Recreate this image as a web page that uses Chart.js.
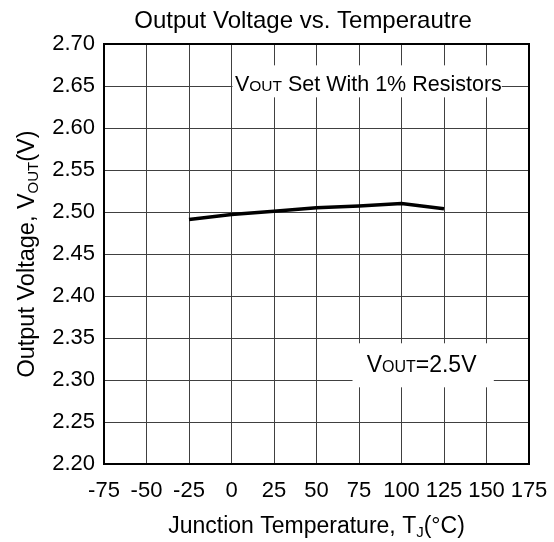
<!DOCTYPE html>
<html>
<head>
<meta charset="utf-8">
<script src="https://cdn.jsdelivr.net/npm/chart.js@4/dist/chart.umd.min.js"></script>
<style>
  html, body { margin: 0; padding: 0; background: #fff; }
  #wrap { width: 554px; height: 542px; }
</style>
</head>
<body>
<div id="wrap"><canvas id="chart" width="554" height="542"></canvas></div>
<script>
const temps = [-25, 0, 25, 50, 75, 100, 125];
const vout = [2.491, 2.497, 2.501, 2.505, 2.507, 2.510, 2.504];

const xTicks = [-75, -50, -25, 0, 25, 50, 75, 100, 125, 150, 175];
const yTicks = [2.20, 2.25, 2.30, 2.35, 2.40, 2.45, 2.50, 2.55, 2.60, 2.65, 2.70];

const FONT = '"Liberation Sans", Arial, Helvetica, sans-serif';

// draw a run of text pieces [text, size, dy] left to right, centred on x
function drawPieces(ctx, pieces, x, y) {
  let total = 0;
  pieces.forEach((p) => {
    ctx.font = p[1] + 'px ' + FONT;
    total += ctx.measureText(p[0]).width;
  });
  let cx = x - total / 2;
  ctx.textAlign = 'left';
  ctx.textBaseline = 'alphabetic';
  pieces.forEach((p) => {
    ctx.font = p[1] + 'px ' + FONT;
    ctx.fillText(p[0], cx, y + (p[2] || 0));
    cx += ctx.measureText(p[0]).width;
  });
}

const frame = {
  id: 'frame',
  beforeDatasetsDraw(chart) {
    const { ctx, chartArea: a } = chart;
    ctx.save();
    ctx.strokeStyle = '#000';
    ctx.lineWidth = 2;
    ctx.strokeRect(a.left, a.top, a.right - a.left, a.bottom - a.top);
    ctx.restore();
  },
  afterDraw(chart) {
    const { ctx, chartArea: a } = chart;
    const x = chart.scales.x;
    const y = chart.scales.y;
    ctx.save();
    ctx.fillStyle = '#000';

    // title
    drawPieces(ctx, [['Output Voltage vs. Temperautre', 24]], 303, 28);

    // axis titles
    drawPieces(ctx, [['Junction Temperature, T', 23], ['J', 15, 4], ['(°C)', 23]],
      (a.left + a.right) / 2, 533);
    ctx.save();
    ctx.translate(34, (a.top + a.bottom) / 2);
    ctx.rotate(-Math.PI / 2);
    drawPieces(ctx, [['Output Voltage, V', 23.5], ['OUT', 15, 4], ['(V)', 23.5]], 0, 0);
    ctx.restore();

    // annotation boxes
    const boxes = [
      { x0: 0, x1: 159, y0: 2.6365, y1: 2.6746, tx: 80.5, ty: 2.6445,
        pieces: [['V', 21.5], ['OUT', 15.5], [' Set With 1% Resistors', 21.5]] },
      { x0: 70.6, x1: 154.3, y0: 2.2913, y1: 2.3437, tx: 111.8, ty: 2.3097,
        pieces: [['V', 23], ['OUT', 16], ['=2.5V', 23]] },
    ];
    boxes.forEach((b) => {
      const l = x.getPixelForValue(b.x0);
      const r = x.getPixelForValue(b.x1);
      const t = y.getPixelForValue(b.y1);
      const btm = y.getPixelForValue(b.y0);
      ctx.fillStyle = '#fff';
      ctx.fillRect(l + 1, t, r - l - 1, btm - t);
      ctx.fillStyle = '#000';
      drawPieces(ctx, b.pieces, x.getPixelForValue(b.tx), y.getPixelForValue(b.ty));
    });
    ctx.restore();
  },
};

new Chart(document.getElementById('chart'), {
  type: 'line',
  data: {
    datasets: [{
      data: temps.map((t, i) => ({ x: t, y: vout[i] })),
      borderColor: '#000',
      borderWidth: 3.5,
      pointRadius: 0,
      tension: 0,
      fill: false,
    }],
  },
  options: {
    responsive: false,
    animation: false,
    devicePixelRatio: 1,
    layout: { padding: { top: 44, right: 25, left: 0, bottom: 0 } },
    plugins: { legend: { display: false }, tooltip: { enabled: false } },
    scales: {
      x: {
        type: 'linear',
        min: -75,
        max: 175,
        afterBuildTicks: (s) => { s.ticks = xTicks.map((v) => ({ value: v })); },
        afterFit: (s) => {
          s.height = 78;
          s.paddingLeft = 0;
          s.paddingRight = 0;
        },
        grid: { color: '#404040', lineWidth: 1, drawTicks: false },
        border: { display: false },
        ticks: {
          color: '#000',
          font: { family: FONT, size: 22 },
          padding: 14,
          maxRotation: 0,
          autoSkip: false,
        },
      },
      y: {
        type: 'linear',
        min: 2.2,
        max: 2.7,
        afterBuildTicks: (s) => { s.ticks = yTicks.map((v) => ({ value: v })); },
        afterFit: (s) => {
          s.width = 104;
          s.paddingTop = 0;
          s.paddingBottom = 0;
        },
        grid: { color: '#404040', lineWidth: 1, drawTicks: false },
        border: { display: false },
        ticks: {
          color: '#000',
          font: { family: FONT, size: 22 },
          padding: 9,
          callback: (v) => Number(v).toFixed(2),
        },
      },
    },
  },
  plugins: [frame],
});
</script>
</body>
</html>
